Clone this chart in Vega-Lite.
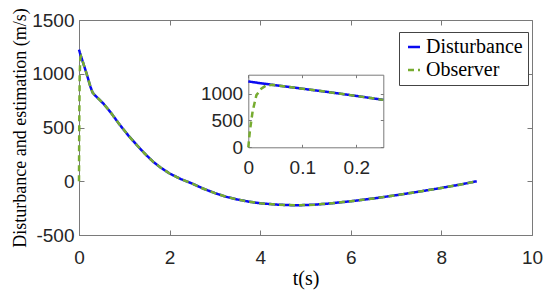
{
  "$schema": "https://vega.github.io/schema/vega-lite/v6.json",
  "width": 453,
  "height": 215,
  "autosize": {"type": "none"},
  "padding": {"left": 79, "top": 20, "right": 18, "bottom": 64},
  "config": {
    "view": {"stroke": "#7a7a7a", "strokeWidth": 1},
    "axis": {
      "grid": false,
      "domainColor": "#7a7a7a",
      "tickColor": "#7a7a7a",
      "labelColor": "#262626",
      "labelFont": "Liberation Sans",
      "labelFontSize": 19,
      "labelFlush": false,
      "labelOverlap": false,
      "labelExpr": "'' + datum.value",
      "titleFont": "Liberation Serif",
      "titleFontWeight": "normal",
      "titleColor": "#000000"
    }
  },
  "data": {
    "values": [
      {"t": 0, "v": 1225, "series": "Disturbance"},
      {"t": 0.02, "v": 1195, "series": "Disturbance"},
      {"t": 0.05, "v": 1155, "series": "Disturbance"},
      {"t": 0.1, "v": 1090, "series": "Disturbance"},
      {"t": 0.15, "v": 1025, "series": "Disturbance"},
      {"t": 0.2, "v": 955, "series": "Disturbance"},
      {"t": 0.25, "v": 882, "series": "Disturbance"},
      {"t": 0.3, "v": 825, "series": "Disturbance"},
      {"t": 0.35, "v": 800, "series": "Disturbance"},
      {"t": 0.4, "v": 780, "series": "Disturbance"},
      {"t": 0.54, "v": 722, "series": "Disturbance"},
      {"t": 0.7, "v": 640, "series": "Disturbance"},
      {"t": 0.9, "v": 525, "series": "Disturbance"},
      {"t": 1.1, "v": 420, "series": "Disturbance"},
      {"t": 1.28, "v": 335, "series": "Disturbance"},
      {"t": 1.45, "v": 258, "series": "Disturbance"},
      {"t": 1.64, "v": 180, "series": "Disturbance"},
      {"t": 1.8, "v": 128, "series": "Disturbance"},
      {"t": 2.0, "v": 72, "series": "Disturbance"},
      {"t": 2.25, "v": 20, "series": "Disturbance"},
      {"t": 2.5, "v": -22, "series": "Disturbance"},
      {"t": 2.75, "v": -70, "series": "Disturbance"},
      {"t": 3.0, "v": -110, "series": "Disturbance"},
      {"t": 3.25, "v": -145, "series": "Disturbance"},
      {"t": 3.5, "v": -170, "series": "Disturbance"},
      {"t": 3.75, "v": -190, "series": "Disturbance"},
      {"t": 4.0, "v": -205, "series": "Disturbance"},
      {"t": 4.4, "v": -218, "series": "Disturbance"},
      {"t": 4.8, "v": -224, "series": "Disturbance"},
      {"t": 5.2, "v": -218, "series": "Disturbance"},
      {"t": 5.5, "v": -208, "series": "Disturbance"},
      {"t": 6.0, "v": -186, "series": "Disturbance"},
      {"t": 6.5, "v": -160, "series": "Disturbance"},
      {"t": 7.0, "v": -130, "series": "Disturbance"},
      {"t": 7.5, "v": -97, "series": "Disturbance"},
      {"t": 8.0, "v": -62, "series": "Disturbance"},
      {"t": 8.4, "v": -32, "series": "Disturbance"},
      {"t": 8.78, "v": 0, "series": "Disturbance"},
      {"t": 0, "v": 0, "series": "Observer"},
      {"t": 0.003, "v": 310, "series": "Observer"},
      {"t": 0.008, "v": 670, "series": "Observer"},
      {"t": 0.015, "v": 970, "series": "Observer"},
      {"t": 0.024, "v": 1090, "series": "Observer"},
      {"t": 0.033, "v": 1150, "series": "Observer"},
      {"t": 0.045, "v": 1161, "series": "Observer"},
      {"t": 0.05, "v": 1155, "series": "Observer"},
      {"t": 0.1, "v": 1090, "series": "Observer"},
      {"t": 0.15, "v": 1025, "series": "Observer"},
      {"t": 0.2, "v": 955, "series": "Observer"},
      {"t": 0.25, "v": 882, "series": "Observer"},
      {"t": 0.3, "v": 825, "series": "Observer"},
      {"t": 0.35, "v": 800, "series": "Observer"},
      {"t": 0.4, "v": 780, "series": "Observer"},
      {"t": 0.54, "v": 722, "series": "Observer"},
      {"t": 0.7, "v": 640, "series": "Observer"},
      {"t": 0.9, "v": 525, "series": "Observer"},
      {"t": 1.1, "v": 420, "series": "Observer"},
      {"t": 1.28, "v": 335, "series": "Observer"},
      {"t": 1.45, "v": 258, "series": "Observer"},
      {"t": 1.64, "v": 180, "series": "Observer"},
      {"t": 1.8, "v": 128, "series": "Observer"},
      {"t": 2.0, "v": 72, "series": "Observer"},
      {"t": 2.25, "v": 20, "series": "Observer"},
      {"t": 2.5, "v": -22, "series": "Observer"},
      {"t": 2.75, "v": -70, "series": "Observer"},
      {"t": 3.0, "v": -110, "series": "Observer"},
      {"t": 3.25, "v": -145, "series": "Observer"},
      {"t": 3.5, "v": -170, "series": "Observer"},
      {"t": 3.75, "v": -190, "series": "Observer"},
      {"t": 4.0, "v": -205, "series": "Observer"},
      {"t": 4.4, "v": -218, "series": "Observer"},
      {"t": 4.8, "v": -224, "series": "Observer"},
      {"t": 5.2, "v": -218, "series": "Observer"},
      {"t": 5.5, "v": -208, "series": "Observer"},
      {"t": 6.0, "v": -186, "series": "Observer"},
      {"t": 6.5, "v": -160, "series": "Observer"},
      {"t": 7.0, "v": -130, "series": "Observer"},
      {"t": 7.5, "v": -97, "series": "Observer"},
      {"t": 8.0, "v": -62, "series": "Observer"},
      {"t": 8.4, "v": -32, "series": "Observer"},
      {"t": 8.78, "v": 0, "series": "Observer"}
    ]
  },
  "layer": [
    {
      "mark": {"type": "line", "strokeWidth": 2.5},
      "encoding": {
        "x": {
          "field": "t", "type": "quantitative",
          "scale": {"domain": [0, 10], "nice": false, "zero": false},
          "axis": {"orient": "bottom", "values": [0, 2, 4, 6, 8, 10], "tickSize": -5, "labelPadding": 18.5, "title": "t(s)", "titleFontSize": 20, "titlePadding": 1}
        },
        "y": {
          "field": "v", "type": "quantitative",
          "scale": {"domain": [-500, 1500], "nice": false, "zero": false},
          "axis": {"orient": "left", "values": [-500, 0, 500, 1000, 1500], "tickSize": -5, "labelPadding": 10, "title": "Disturbance and estimation (m/s)", "titleFontSize": 18, "titlePadding": 2}
        },
        "color": {
          "field": "series", "type": "nominal",
          "scale": {"domain": ["Disturbance", "Observer"], "range": ["#0a0af0", "#77ac30"]},
          "legend": {
            "title": null, "orient": "none", "legendX": 320, "legendY": 12,
            "strokeColor": "#444444", "fillColor": "#ffffff", "padding": 5,
            "labelFont": "Liberation Serif", "labelFontSize": 20, "labelColor": "#000000",
            "symbolType": "stroke", "symbolSize": 144, "symbolStrokeWidth": 2.5,
            "rowPadding": 3, "labelOffset": 2
          }
        },
        "strokeDash": {
          "field": "series", "type": "nominal",
          "scale": {"domain": ["Disturbance", "Observer"], "range": [[1, 0], [6, 4]]},
          "legend": {
            "title": null, "orient": "none", "legendX": 320, "legendY": 12,
            "strokeColor": "#444444", "fillColor": "#ffffff", "padding": 5,
            "labelFont": "Liberation Serif", "labelFontSize": 20, "labelColor": "#000000",
            "symbolType": "stroke", "symbolSize": 144, "symbolStrokeWidth": 2.5,
            "rowPadding": 3, "labelOffset": 2
          }
        }
      }
    },
    {
      "mark": {"type": "line", "strokeOpacity": 0},
      "encoding": {
        "x": {
          "field": "t", "type": "quantitative",
          "scale": {"domain": [0, 10], "nice": false, "zero": false},
          "axis": {"orient": "top", "values": [0, 2, 4, 6, 8, 10], "tickSize": -5, "labels": false, "domain": false, "title": null}
        },
        "y": {
          "field": "v", "type": "quantitative",
          "scale": {"domain": [-500, 1500], "nice": false, "zero": false},
          "axis": {"orient": "right", "values": [-500, 0, 500, 1000, 1500], "tickSize": -5, "labels": false, "domain": false, "title": null}
        }
      }
    },
    {
      "transform": [{"filter": "datum.t <= 0.25"}],
      "mark": {"type": "line", "strokeWidth": 2.5},
      "encoding": {
        "x": {
          "field": "t", "type": "quantitative",
          "scale": {"domain": [0, 0.25], "range": [169.3, 304.3], "nice": false, "zero": false},
          "axis": {"orient": "bottom", "offset": -87.7, "values": [0, 0.1, 0.2], "tickSize": -3, "labelPadding": 14.3, "title": null}
        },
        "y": {
          "field": "v", "type": "quantitative",
          "scale": {"domain": [0, 1350], "range": [127.3, 54.7], "nice": false, "zero": false},
          "axis": {"orient": "left", "offset": -169.3, "values": [0, 500, 1000], "tickSize": -3, "labelPadding": 8.6, "title": null}
        },
        "color": {"field": "series", "type": "nominal", "legend": null},
        "strokeDash": {"field": "series", "type": "nominal", "legend": null}
      }
    },
    {
      "transform": [{"filter": "datum.t <= 0.25"}],
      "mark": {"type": "line", "strokeOpacity": 0},
      "encoding": {
        "x": {
          "field": "t", "type": "quantitative",
          "scale": {"domain": [0, 0.25], "range": [169.3, 304.3], "nice": false, "zero": false},
          "axis": {"orient": "top", "offset": -54.7, "values": [0, 0.1, 0.2], "tickSize": -3, "labels": false, "title": null}
        },
        "y": {
          "field": "v", "type": "quantitative",
          "scale": {"domain": [0, 1350], "range": [127.3, 54.7], "nice": false, "zero": false},
          "axis": {"orient": "right", "offset": -148.7, "values": [0, 500, 1000], "tickSize": -3, "labels": false, "title": null}
        }
      }
    }
  ],
  "resolve": {"scale": {"x": "independent", "y": "independent", "color": "shared", "strokeDash": "shared"}}
}
